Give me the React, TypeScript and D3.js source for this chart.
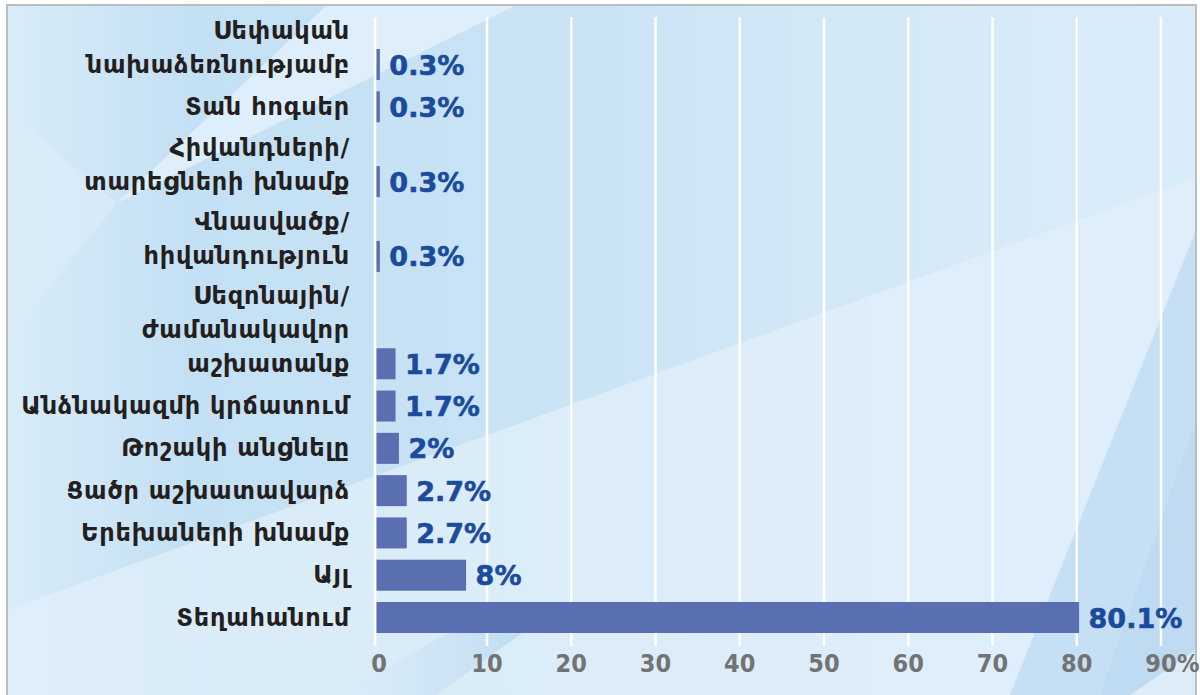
import React from "react";
import * as d3 from "d3";

// reasons, top to bottom (line breaks as in the picture)
const categories = [
  "Սեփական\nնախաձեռնությամբ",
  "Տան հոգսեր",
  "Հիվանդների/\nտարեցների խնամք",
  "Վնասվածք/\nհիվանդություն",
  "Սեզոնային/\nժամանակավոր\nաշխատանք",
  "Անձնակազմի կրճատում",
  "Թոշակի անցնելը",
  "Ցածր աշխատավարձ",
  "Երեխաների խնամք",
  "Այլ",
  "Տեղահանում",
];
const values = [0.3, 0.3, 0.3, 0.3, 1.7, 1.7, 2, 2.7, 2.7, 8, 80.1];
const ticks = [0, 10, 20, 30, 40, 50, 60, 70, 80, 90];

const width = 1200;
const height = 695;
const labelRight = 350;
const lineStep = 34;
const rowGap = 0.3; // extra space between rows, in label lines
const barH = 31;

const lines = categories.map((c) => c.split("\n"));
const cum = d3.cumsum(lines.map((l) => l.length));
const rowPos = Array.from(cum, (c, i) => c + rowGap * i);

const yScale = d3
  .scaleLinear()
  .domain([rowPos[0], rowPos[rowPos.length - 1]])
  .range([64.5, 617.5]);

// the axis in the picture is not evenly spaced between 0 and 10
const xScale = d3.scaleLinear().domain([0, 10, 90]).range([375, 487, 1161]);

const labelFont = "'DejaVu Sans', sans-serif";
const tickFont = "'DejaVu Sans Condensed', 'DejaVu Sans', sans-serif";

const Background = () => (
  <g clipPath="url(#frameClip)">
    <rect x={7} y={5} width={1189} height={700} fill="url(#bgGrad)" />
    {/* light wedge top left */}
    <polygon points="327,5 517,5 117,203" fill="#e2f1fb" opacity={0.85} />
    <polygon points="117,203 7,340 7,110" fill="#dcedf9" opacity={0.6} />
    {/* light area below the long diagonal */}
    <polygon points="7,610 1196,177 1196,230 1010,695 7,695" fill="#e0effa" opacity={0.8} />
    {/* darker band near the bottom */}
    <polygon points="340,695 437,695 540,620 470,620" fill="url(#bandGrad)" />
    {/* right side darker shapes */}
    <polygon points="1196,230 1010,695 1196,695" fill="#c3def3" opacity={0.9} />
    <polygon points="1196,420 1100,695 1196,695" fill="#b9d8f0" opacity={0.6} />
    <polygon points="1130,695 1196,650 1196,695" fill="#dcedf9" />
  </g>
);

export default function App() {
  return (
    <svg
      width={width}
      height={height}
      style={{ position: "absolute", left: 0, top: 0, background: "#fff" }}
    >
      <defs>
        <clipPath id="frameClip">
          <rect x={7} y={5} width={1189} height={700} />
        </clipPath>
        <linearGradient id="bgGrad" x1="0" x2="1" y1="0" y2="0">
          <stop offset="0" stopColor="#d9ecf9" />
          <stop offset="0.15" stopColor="#c4e0f4" />
          <stop offset="0.45" stopColor="#c9e3f5" />
          <stop offset="0.7" stopColor="#d3e8f7" />
          <stop offset="1" stopColor="#d9ecf9" />
        </linearGradient>
        <linearGradient id="bandGrad" x1="0" x2="1" y1="0" y2="0">
          <stop offset="0" stopColor="#c6e1f5" stopOpacity={0} />
          <stop offset="1" stopColor="#bddbf2" stopOpacity={1} />
        </linearGradient>
      </defs>

      <Background />
      <rect
        x={7}
        y={5}
        width={1189}
        height={700}
        fill="none"
        stroke="#bdbdbd"
        strokeWidth={2}
      />

      {/* gridlines */}
      {ticks.map((t) => (
        <line
          key={t}
          x1={xScale(t)}
          x2={xScale(t)}
          y1={17}
          y2={646}
          stroke="#fff"
          strokeWidth={2.5}
        />
      ))}

      {/* bars */}
      {values.map((v, i) => (
        <rect
          key={i}
          x={xScale(0) + 1.5}
          y={yScale(rowPos[i]) - barH / 2}
          width={xScale(v) - xScale(0)}
          height={barH}
          fill="#5a6eb2"
        />
      ))}

      {/* value labels */}
      {values.map((v, i) => (
        <text
          key={i}
          x={xScale(v) + 11}
          y={yScale(rowPos[i]) + 10}
          fill="#1b4b9c"
          stroke="#1b4b9c"
          strokeWidth={0.6}
          fontFamily={labelFont}
          fontWeight="bold"
          fontSize={27}
        >
          {`${v}%`}
        </text>
      ))}

      {/* category labels */}
      {lines.map((ls, i) => {
        const cy = yScale(rowPos[i]);
        return (
          <text
            key={i}
            textAnchor="end"
            fill="#231f20"
            fontFamily={labelFont}
            fontWeight="bold"
            fontSize={24}
            letterSpacing={0.8}
          >
            {ls.map((l, k) => (
              <tspan
                key={k}
                x={labelRight}
                y={cy + 8 - (ls.length - 1 - k) * lineStep}
              >
                {l}
              </tspan>
            ))}
          </text>
        );
      })}

      {/* x axis tick labels */}
      {ticks.map((t, i) => (
        <g key={t}>
          <text
            x={xScale(t) + (t === 0 ? 4 : 0)}
            y={672}
            textAnchor="middle"
            fill="#737373"
            fontFamily={tickFont}
            fontStretch="condensed"
            fontWeight="bold"
            fontSize={25}
          >
            {t}
          </text>
          {i === ticks.length - 1 && (
            <text
              x={xScale(t) + 16}
              y={672}
              fill="#737373"
              fontFamily={tickFont}
              fontStretch="condensed"
              fontWeight="bold"
              fontSize={25}
            >
              %
            </text>
          )}
        </g>
      ))}
    </svg>
  );
}
